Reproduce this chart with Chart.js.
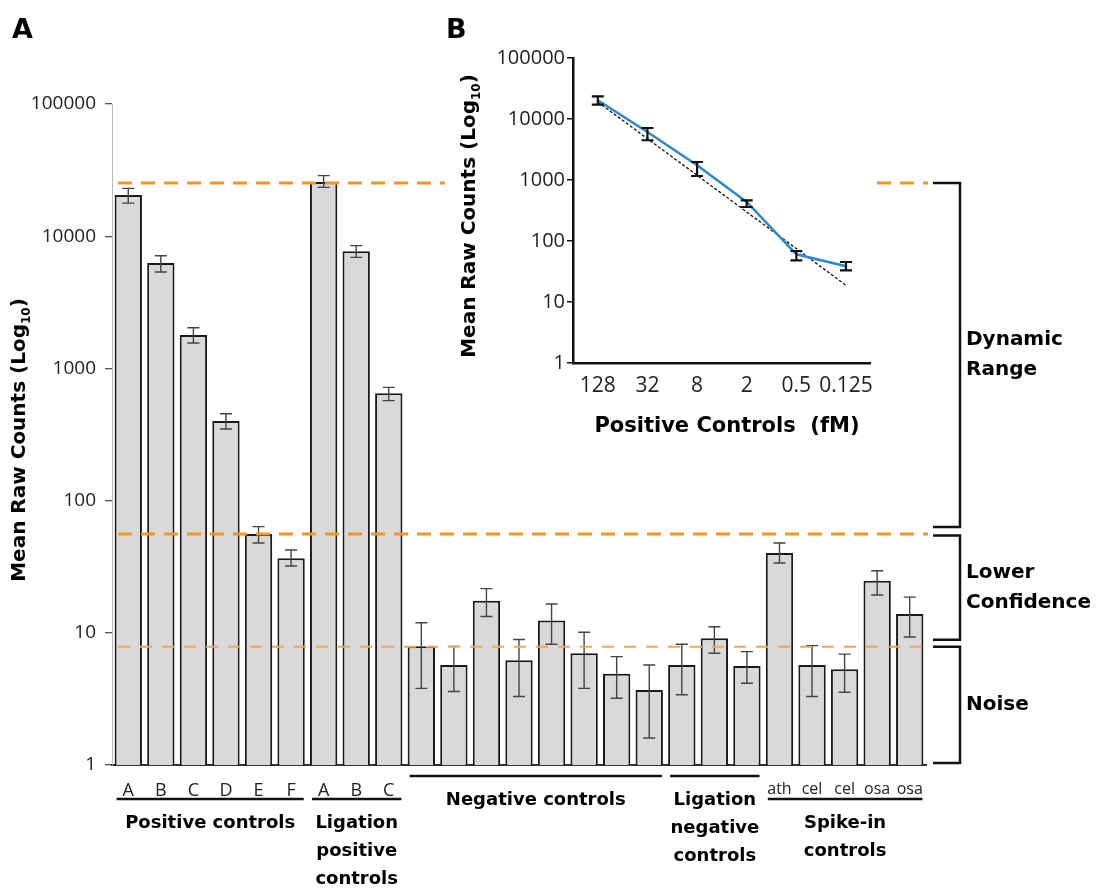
<!DOCTYPE html>
<html>
<head>
<meta charset="utf-8">
<script src="https://cdn.jsdelivr.net/npm/chart.js@4.4.1/dist/chart.umd.min.js"></script>
<style>
  html, body { margin: 0; padding: 0; background: #fff; }
  #wrap { position: relative; width: 1108px; height: 888px; overflow: hidden; }
  #mainChart { position: absolute; left: 0; top: 0; }
  #insetChart { position: absolute; left: 445px; top: 40px; background: #fff; }
</style>
</head>
<body>
<div id="wrap">
  <canvas id="mainChart" width="1108" height="888"></canvas>
  <canvas id="insetChart" width="430" height="410"></canvas>
</div>
<script>
// --- panel A : mean raw counts per probe ---
const barLabels = ['A', 'B', 'C', 'D', 'E', 'F', 'A', 'B', 'C',
    '', '', '', '', '', '', '', '', '', '', '', 'ath', 'cel', 'cel', 'osa', 'osa'];
const barMeans = [20500, 6270, 1790, 400, 56, 36.6, 25700, 7690, 648,
    7.9, 5.7, 17.5, 6.2, 12.4, 7.0, 4.9, 3.7, 5.7, 9.1, 5.6, 40.2, 5.7, 5.3, 24.8, 13.9];
const barErrLow = [17800, 5360, 1556, 348, 47.8, 32, 23400, 6920, 570,
    3.8, 3.6, 13.3, 3.3, 8.2, 3.8, 3.2, 1.6, 3.4, 7.0, 4.15, 33.7, 3.3, 3.55, 19.3, 9.3];
const barErrHigh = [23000, 7120, 2030, 454, 63.5, 42.3, 28700, 8480, 719,
    11.9, 7.9, 21.6, 8.9, 16.5, 10.1, 6.6, 5.7, 8.2, 11.1, 7.2, 47.8, 8.0, 6.9, 29.5, 18.6];

const groupNames = [['Positive controls'], ['Ligation', 'positive', 'controls'], ['Negative controls'],
    ['Ligation', 'negative', 'controls'], ['Spike-in', 'controls']];
const groupRanges = [[0, 5], [6, 8], [9, 16], [17, 19], [20, 24]];

const zoneLimits = [25250, 56, 7.85];
const zoneNames = [['Dynamic', 'Range'], ['Lower', 'Confidence'], ['Noise']];

const logTicks = [1, 10, 100, 1000, 10000, 100000];
const yTitle = ['Mean Raw Counts (Log', '10', ')'];

// --- panel B : positive controls dilution ---
const concLabels = ['128', '32', '8', '2', '0.5', '0.125'];
const concMeans = [20270, 6120, 1742, 436, 60.5, 38.5];
const concErrLow = [17220, 4480, 1164, 361, 48.3, 33.1];
const concErrHigh = [23550, 7120, 1974, 464, 68.5, 45.3];
const fitLine = [19000, null, null, null, null, 18.8];
const xTitleInset = 'Positive Controls  (fM)';

const BOLD = '"DejaVu Sans", sans-serif';
const REG = '"Open Sans", sans-serif';

function drawLogTitle(ctx, cx, cy, px) {
    const big = `bold ${px}px ${BOLD}`;
    const small = `bold ${Math.round(px * 0.62)}px ${BOLD}`;
    const parts = [[yTitle[0], big, 0], [yTitle[1], small, px * 0.32], [yTitle[2], big, 0]];
    ctx.save();
    ctx.translate(cx, cy);
    ctx.rotate(-Math.PI / 2);
    ctx.textBaseline = 'middle';
    ctx.textAlign = 'left';
    ctx.fillStyle = '#000';
    let total = 0;
    parts.forEach(p => { ctx.font = p[1]; total += ctx.measureText(p[0]).width; });
    let x = -total / 2;
    parts.forEach(p => {
        ctx.font = p[1];
        ctx.fillText(p[0], x, p[2]);
        x += ctx.measureText(p[0]).width;
    });
    ctx.restore();
}

function errorBars(low, high, cap, color, width) {
    return {
        id: 'errorBars',
        afterDatasetsDraw(chart) {
            const ctx = chart.ctx;
            const y = chart.scales.y;
            const meta = chart.getDatasetMeta(0);
            ctx.save();
            ctx.strokeStyle = color;
            ctx.lineWidth = width;
            meta.data.forEach((el, i) => {
                const x = el.x;
                const y1 = y.getPixelForValue(low[i]);
                const y2 = y.getPixelForValue(high[i]);
                ctx.beginPath();
                ctx.moveTo(x, y1); ctx.lineTo(x, y2);
                ctx.moveTo(x - cap, y1); ctx.lineTo(x + cap, y1);
                ctx.moveTo(x - cap, y2); ctx.lineTo(x + cap, y2);
                ctx.stroke();
            });
            ctx.restore();
        }
    };
}

const logAxisTicks = s => { s.ticks = logTicks.map(v => ({ value: v })); };

// Seuils orange + accolades de droite
const zonePlugin = {
    id: 'zones',
    afterDatasetsDraw(chart) {
        const { ctx, chartArea: ca, scales: { y } } = chart;
        zoneLimits.forEach((v, i) => {
            const py = y.getPixelForValue(v);
            ctx.save();
            ctx.strokeStyle = i < 2 ? '#f7941d' : '#f5a64c';
            ctx.lineWidth = i < 2 ? 3 : 2;
            ctx.setLineDash(i < 2 ? [14, 9] : [12, 10]);
            ctx.beginPath();
            ctx.moveTo(ca.left + 6, py);
            ctx.lineTo(ca.right + 2, py);
            ctx.stroke();
            ctx.restore();
        });
    },
    afterDraw(chart) {
        const { ctx, chartArea: ca, scales: { y } } = chart;
        const x0 = ca.right + 7, x1 = ca.right + 34;
        zoneLimits.forEach((v, i) => {
            const top = y.getPixelForValue(v) + (i === 1 ? 1.5 : 0);
            const bottom = i < zoneLimits.length - 1 ? y.getPixelForValue(zoneLimits[i + 1]) - 7 : ca.bottom - 2;
            ctx.save();
            ctx.strokeStyle = '#111';
            ctx.lineWidth = 2.5;
            ctx.beginPath();
            ctx.moveTo(x0, top); ctx.lineTo(x1, top); ctx.lineTo(x1, bottom); ctx.lineTo(x0, bottom);
            ctx.stroke();
            ctx.fillStyle = '#000';
            ctx.font = `bold 20px ${BOLD}`;
            ctx.textBaseline = 'middle';
            ctx.textAlign = 'left';
            const lines = zoneNames[i];
            const mid = (top + bottom) / 2 - (lines.length - 1) * 15;
            lines.forEach((t, k) => ctx.fillText(t, x1 + 6, mid + k * 30));
            ctx.restore();
        });
    }
};

// Groupes sous l'axe x
const groupPlugin = {
    id: 'groups',
    afterDraw(chart) {
        const { ctx, chartArea: ca } = chart;
        const meta = chart.getDatasetMeta(0);
        ctx.save();
        ctx.strokeStyle = '#111';
        ctx.lineWidth = 2.5;
        ctx.fillStyle = '#000';
        ctx.font = `bold 18px ${BOLD}`;
        ctx.textAlign = 'center';
        ctx.textBaseline = 'middle';
        groupRanges.forEach(([a, b], g) => {
            const left = meta.data[a].x - meta.data[a].width / 2 + 2;
            const right = meta.data[b].x + meta.data[b].width / 2 - 1;
            const labelled = barLabels.slice(a, b + 1).some(s => s);
            const lineY = ca.bottom + (labelled ? 34 : 11);
            ctx.beginPath();
            ctx.moveTo(left, lineY); ctx.lineTo(right, lineY);
            ctx.stroke();
            groupNames[g].forEach((t, k) => ctx.fillText(t, (left + right) / 2, lineY + 24 + k * 28));
        });
        drawLogTitle(ctx, 20, 440, 20);
        ctx.font = `bold 27px ${BOLD}`;
        ctx.textAlign = 'left';
        ctx.textBaseline = 'alphabetic';
        ctx.fillText('A', 12, 38);
        ctx.fillText('B', 446, 38);
        ctx.restore();
    }
};

new Chart(document.getElementById('mainChart'), {
    type: 'bar',
    data: {
        labels: barLabels,
        datasets: [{
            data: barMeans,
            backgroundColor: '#d9d9d9',
            borderColor: '#1a1a1a',
            borderWidth: 2,
            barPercentage: 0.84,
            categoryPercentage: 1
        }]
    },
    options: {
        responsive: false,
        animation: false,
        layout: { padding: { top: 104, right: 182, left: 0, bottom: 0 } },
        plugins: { legend: { display: false }, tooltip: { enabled: false } },
        scales: {
            x: {
                grid: { display: false },
                border: { color: '#333', width: 2 },
                ticks: {
                    autoSkip: false,
                    maxRotation: 0,
                    padding: 7,
                    color: '#222',
                    font: c => ({ family: REG, size: c.index >= 20 ? 16 : 18 })
                },
                afterFit: s => { s.height = 123; }
            },
            y: {
                type: 'logarithmic',
                min: 1,
                max: 100000,
                afterBuildTicks: logAxisTicks,
                afterFit: s => { s.width = 112; },
                grid: { drawOnChartArea: false, tickLength: 7, color: '#555', lineWidth: 1.3 },
                border: { color: '#bbb', width: 1 },
                ticks: { padding: 9, color: '#222', font: { family: REG, size: 19 }, callback: v => String(v) }
            }
        }
    },
    plugins: [errorBars(barErrLow, barErrHigh, 6, '#444', 1.4), zonePlugin, groupPlugin]
});

const insetTitles = {
    id: 'insetTitles',
    afterDraw(chart) {
        const ctx = chart.ctx;
        ctx.save();
        ctx.fillStyle = '#000';
        ctx.font = `bold 21px ${BOLD}`;
        ctx.textAlign = 'center';
        ctx.textBaseline = 'middle';
        ctx.fillText(xTitleInset, 282, 387);
        drawLogTitle(ctx, 25, 176, 20);
        ctx.restore();
    }
};

new Chart(document.getElementById('insetChart'), {
    type: 'line',
    data: {
        labels: concLabels,
        datasets: [
            { data: concMeans, borderColor: '#2b88d0', borderWidth: 2.5, pointRadius: 0, tension: 0 },
            { data: fitLine, borderColor: '#111', borderWidth: 1.3, borderDash: [3, 2], pointRadius: 0, spanGaps: true }
        ]
    },
    options: {
        responsive: false,
        animation: false,
        layout: { padding: { top: 18, right: 3, left: 0, bottom: 0 } },
        plugins: { legend: { display: false }, tooltip: { enabled: false } },
        scales: {
            x: {
                offset: true,
                grid: { display: false },
                border: { color: '#111', width: 2.5 },
                ticks: { autoSkip: false, minRotation: 0, maxRotation: 0, padding: 2, color: '#222', font: { family: REG, size: 21 } },
                afterFit: s => { s.height = 87; }
            },
            y: {
                type: 'logarithmic',
                min: 1,
                max: 100000,
                afterBuildTicks: logAxisTicks,
                afterFit: s => { s.width = 128; },
                grid: { drawOnChartArea: false, tickLength: 6, color: '#111', lineWidth: 1.5 },
                border: { color: '#111', width: 2.5 },
                ticks: { padding: 2, color: '#222', font: { family: REG, size: 20 }, callback: v => String(v) }
            }
        }
    },
    plugins: [errorBars(concErrLow, concErrHigh, 6, '#111', 2.2), insetTitles]
});
</script>
</body>
</html>
